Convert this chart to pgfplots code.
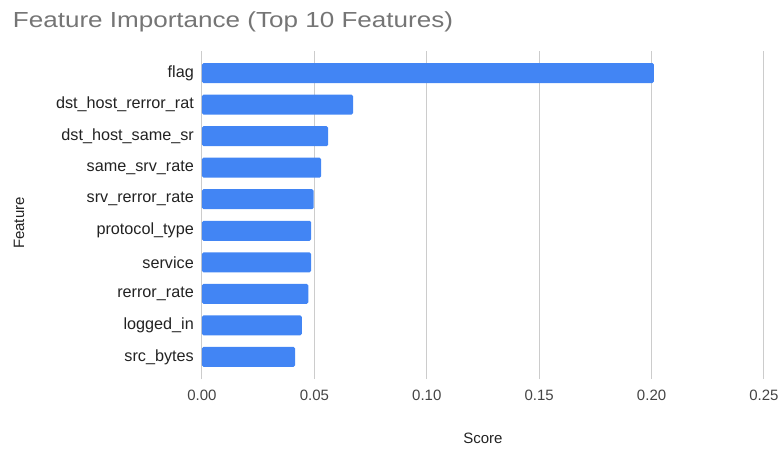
\documentclass[border=0pt]{standalone}
\usepackage{pgfplots}
\pgfplotsset{compat=1.18}
\usepackage{fontspec}
\setmainfont{Liberation Sans}
\newfontfamily\titlefont[FakeStretch=1.195]{Liberation Sans}
\definecolor{barblue}{HTML}{4285F4}
\definecolor{gridgray}{HTML}{CCCCCC}
\definecolor{titlegray}{HTML}{757575}
\definecolor{ticktext}{HTML}{444444}
\definecolor{labeltext}{HTML}{222222}
\begin{document}
\begin{tikzpicture}
\useasboundingbox (-202pt,-72pt) rectangle (578pt,379pt);
\node[anchor=base west, inner sep=0pt, text=titlegray, font=\titlefont\fontsize{21.8}{26}\selectfont] at (-189.3pt,351.7pt) {Feature Importance (Top 10 Features)};
\begin{axis}[
  at={(0pt,0pt)}, anchor=south west,
  scale only axis, width=562pt, height=328pt,
  xmin=0, xmax=0.25, ymin=-0.7, ymax=9.7,
  xtick={0,0.05,0.1,0.15,0.2,0.25},
  xticklabels={0.00,0.05,0.10,0.15,0.20,0.25},
  ytick={0,1,2,3,4,5,6,7,8,9},
  yticklabels={src\_bytes,logged\_in,rerror\_rate,service,protocol\_type,srv\_rerror\_rate,same\_srv\_rate,dst\_host\_same\_sr,dst\_host\_rerror\_rat,flag},
  axis line style={draw=none},
  tick style={draw=none},
  xmajorgrids, ymajorgrids=false,
  major grid style={gridgray, line width=1pt},
  extra x ticks={0}, extra x tick labels={},
  extra x tick style={grid style={black!80, line width=1pt}},
  xticklabel style={font=\fontsize{15}{18}\selectfont, text=ticktext, inner sep=0pt, anchor=north, yshift=-11pt},
  yticklabel style={font=\fontsize{16.2}{19}\selectfont, text=labeltext, inner sep=0pt, anchor=east, xshift=-8pt},
  xlabel={Score}, ylabel={Feature},
  xlabel style={at={(axis description cs:0.5,0)}, anchor=center, yshift=-59.5pt, font=\fontsize{15}{18}\selectfont, text=labeltext},
  ylabel style={at={(axis description cs:-0.3256,0.4756)}, anchor=center, font=\fontsize{15}{18}\selectfont, text=labeltext},
  clip=false,
]
\addplot[xbar, bar width=20pt, fill=barblue, draw=none, rounded corners=1.5pt] coordinates {
  (0.0414,0) (0.0444,1) (0.0473,2) (0.0485,3) (0.0485,4)
  (0.0497,5) (0.0530,6) (0.0561,7) (0.0672,8) (0.2010,9)
};
\end{axis}
\end{tikzpicture}
\end{document}
